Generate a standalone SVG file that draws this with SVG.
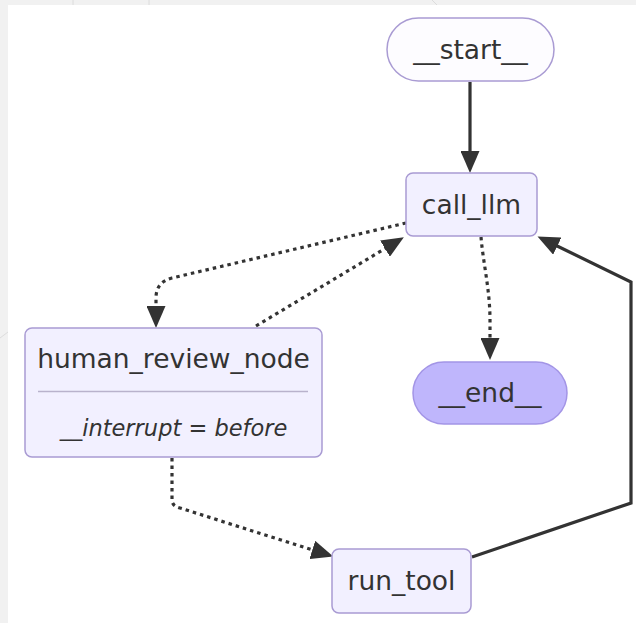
<svg xmlns="http://www.w3.org/2000/svg" width="636" height="623" viewBox="0 0 636 623">
<style>
.bg{fill:#f1f1f1}
.canvas{fill:#ffffff}
.faint{stroke:#dcdcdc;stroke-width:1;fill:none}
.node{fill:#f2f0ff;stroke:#a99bd3;stroke-width:1.5}
.first{fill:#fdfcff;stroke:#a99bd3;stroke-width:1.5}
.last{fill:#bfb6fc;stroke:#a395e6;stroke-width:1.5}
.lbl{font-family:"DejaVu Sans","Liberation Sans",sans-serif;font-size:26.5px;fill:#333333;text-anchor:middle}
.note{font-family:"DejaVu Sans","Liberation Sans",sans-serif;font-size:22.5px;font-style:italic;fill:#333333;text-anchor:middle}
.div{stroke:#b9b2cc;stroke-width:1.5}
.solid{fill:none;stroke:#333333;stroke-width:3.2}
.dotted{fill:none;stroke:#333333;stroke-width:3.2;stroke-dasharray:3.5 4}
</style>
<defs>
<marker id="arrow" markerUnits="userSpaceOnUse" viewBox="0 0 22 19" markerWidth="22" markerHeight="19" refX="7" refY="9.5" orient="auto">
<path d="M0,0 L22,9.5 L0,19 z" fill="#333333"/>
</marker>
</defs>
<rect class="bg" x="0" y="0" width="636" height="623"/>
<rect class="canvas" x="8" y="5" width="628" height="618"/>
<line class="faint" x1="73" y1="0" x2="73" y2="5"/>
<line class="faint" x1="149" y1="0" x2="149" y2="5"/>
<line class="faint" x1="432" y1="0" x2="437" y2="5"/>
<line class="faint" x1="0" y1="338" x2="8" y2="332"/>
<g id="edges">
<path class="solid" d="M470,82 L470,158" marker-end="url(#arrow)"/>
<path class="dotted" d="M406,223 L172,278 Q156,282 156,298 L156,313" marker-end="url(#arrow)"/>
<path class="dotted" d="M256,326 L391,245" marker-end="url(#arrow)"/>
<path class="dotted" d="M481,237 C483,262 490,290 490,320 L490,345" marker-end="url(#arrow)"/>
<path class="dotted" d="M172,458 L172,500 Q172,506 180,508 L319,552" marker-end="url(#arrow)"/>
<path class="solid" d="M472,557 L631,503 L631,282 L551,243" marker-end="url(#arrow)"/>
</g>
<g id="start">
<rect class="first" x="387" y="18" width="167" height="63" rx="31.5"/>
<text class="lbl" x="470.5" y="59">__start__</text>
</g>
<g id="call_llm">
<rect class="node" x="406" y="173" width="131" height="63" rx="7"/>
<text class="lbl" x="471.5" y="214">call_llm</text>
</g>
<g id="human_review_node">
<rect class="node" x="25" y="328" width="297" height="129" rx="7"/>
<text class="lbl" x="173.5" y="368">human_review_node</text>
<line class="div" x1="38" y1="391.5" x2="308" y2="391.5"/>
<text class="note" x="173.5" y="436">__interrupt = before</text>
</g>
<g id="end">
<rect class="last" x="413" y="362" width="154" height="62" rx="31"/>
<text class="lbl" x="490" y="402">__end__</text>
</g>
<g id="run_tool">
<rect class="node" x="332" y="549" width="139" height="64" rx="7"/>
<text class="lbl" x="401.5" y="590">run_tool</text>
</g>
</svg>
